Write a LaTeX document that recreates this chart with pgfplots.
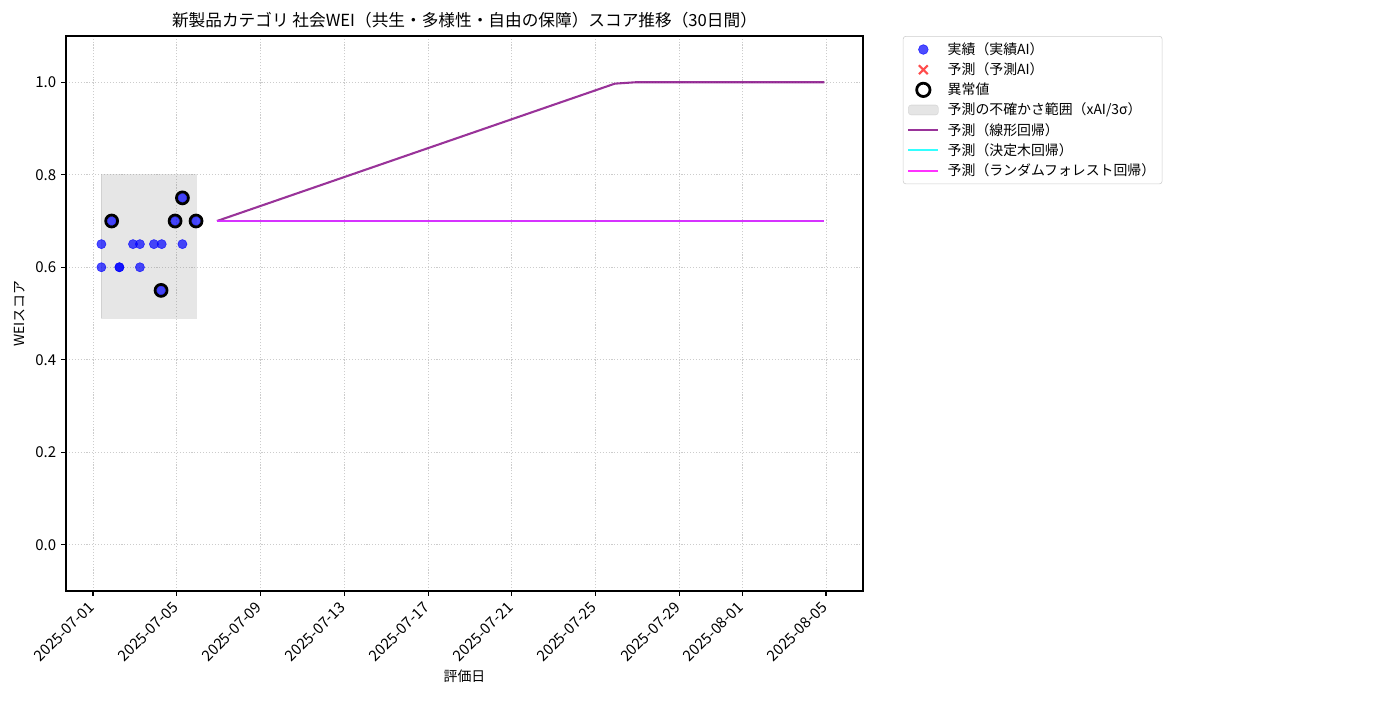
\documentclass[border=0pt]{standalone}
\usepackage{fontspec}
\setmainfont{Noto Sans CJK JP}
\usepackage{pgfplots}
\pgfplotsset{compat=1.18}

\definecolor{ptblue}{HTML}{0000FF}
\definecolor{lrpurple}{HTML}{800080}
\definecolor{dtcyan}{HTML}{00FFFF}
\definecolor{rfmag}{HTML}{FF00FF}

\pgfplotsset{
  legline/.style={legend image code/.code={%
    \draw[mark repeat=2,mark phase=2,##1] plot coordinates {(0pt,0pt) (10.8pt,0pt) (21.6pt,0pt)};}},
  legpatch/.style={legend image code/.code={%
    \draw[##1] (0pt,-3.6pt) rectangle (21.6pt,3.6pt);}},
}

\begin{document}
\begin{tikzpicture}
\useasboundingbox (0pt,0pt) rectangle (1008pt,504pt);
\begin{axis}[
  at={(47.52pt,78.48pt)}, anchor=south west,
  scale only axis, width=573.84pt, height=399.6pt,
  xmin=-1.29, xmax=36.77, ymin=-0.1, ymax=1.1,
  xtick={0,4,8,12,16,20,24,28,31,35},
  xticklabels={2025-07-01,2025-07-05,2025-07-09,2025-07-13,2025-07-17,2025-07-21,2025-07-25,2025-07-29,2025-08-01,2025-08-05},
  ytick={0,0.2,0.4,0.6,0.8,1.0},
  yticklabels={0.0,0.2,0.4,0.6,0.8,1.0},
  tick pos=left, tick align=outside, major tick length=3.5pt,
  tick style={line width=0.8pt, black},
  axis line style={line width=0.8pt},
  grid=major,
  grid style={dash pattern=on 0.8pt off 1.3pt, color=black!20, line width=0.5pt},
  ticklabel style={font=\fontsize{10.8}{12}\selectfont},
  xticklabel style={xshift=-4pt, yshift=-1pt, rotate=45, anchor=north east, inner sep=1.5pt},
  title={新製品カテゴリ 社会WEI（共生・多様性・自由の保障）スコア推移（30日間）},
  title style={font=\fontsize{12}{14}\selectfont, yshift=-3.5pt},
  xlabel={評価日}, ylabel={WEIスコア},
  label style={font=\fontsize{10}{12}\selectfont},
  every axis x label/.style={at={(axis description cs:0.5,-0.153)}, anchor=center},
  every axis y label/.style={at={(axis description cs:-0.058,0.5)}, rotate=90, anchor=center},
  legend style={at={(1.05,1)}, anchor=north west, draw=black!20, rounded corners=2pt,
    font=\fontsize{10}{12}\selectfont, row sep=0.5pt, inner xsep=3pt, inner ysep=2.5pt,
    /tikz/every odd column/.append style={column sep=4pt}},
  legend cell align=left,
]

% legend entries
\addlegendimage{legline, only marks, mark=*, mark size=3.5pt, color=ptblue, opacity=0.7}
\addlegendentry{実績（実績AI）}
\addlegendimage{legline, only marks, mark=x, mark size=4.5pt, color=red, opacity=0.7, line width=1.5pt}
\addlegendentry{予測（予測AI）}
\addlegendimage{legline, only marks, mark=o, mark size=4.8pt, color=black, line width=2pt}
\addlegendentry{異常値}
\addlegendimage{legpatch, fill=gray, fill opacity=0.2, draw=gray, draw opacity=0.2}
\addlegendentry{予測の不確かさ範囲（xAI/3σ）}
\addlegendimage{legline, color=lrpurple, opacity=0.8, line width=1.5pt}
\addlegendentry{予測（線形回帰）}
\addlegendimage{legline, color=dtcyan, opacity=0.8, line width=1.5pt}
\addlegendentry{予測（決定木回帰）}
\addlegendimage{legline, color=rfmag, opacity=0.8, line width=1.5pt}
\addlegendentry{予測（ランダムフォレスト回帰）}

% uncertainty band
\addplot[fill=gray, fill opacity=0.2, draw=gray, draw opacity=0.2, forget plot]
  coordinates {(0.39,0.49) (4.94,0.49) (4.94,0.80) (0.39,0.80)} -- cycle;

% actual scores
\addplot[only marks, mark=*, mark size=3.3pt, color=ptblue, opacity=0.7, forget plot]
  coordinates {
  (0.40,0.65) (0.40,0.60) (0.89,0.70) (1.26,0.60) (1.26,0.60)
  (1.91,0.65) (2.24,0.65) (2.24,0.60) (2.91,0.65) (3.25,0.55)
  (3.28,0.65) (3.92,0.70) (4.27,0.75) (4.27,0.65) (4.92,0.70)
  };

% outliers
\addplot[only marks, mark=o, mark size=4.3pt, color=black, line width=2pt, forget plot]
  coordinates {(0.89,0.70) (3.25,0.55) (3.92,0.70) (4.27,0.75) (4.92,0.70)};

% forecasts
\addplot[color=lrpurple, opacity=0.8, line width=1.5pt, forget plot]
  coordinates {(5.92,0.700) (24.92,0.997) (25.92,1.000) (34.92,1.000)};
\addplot[color=dtcyan, opacity=0.8, line width=1.5pt, forget plot]
  coordinates {(5.92,0.70) (34.92,0.70)};
\addplot[color=rfmag, opacity=0.8, line width=1.5pt, forget plot]
  coordinates {(5.92,0.70) (34.92,0.70)};

\end{axis}
\end{tikzpicture}
\end{document}
